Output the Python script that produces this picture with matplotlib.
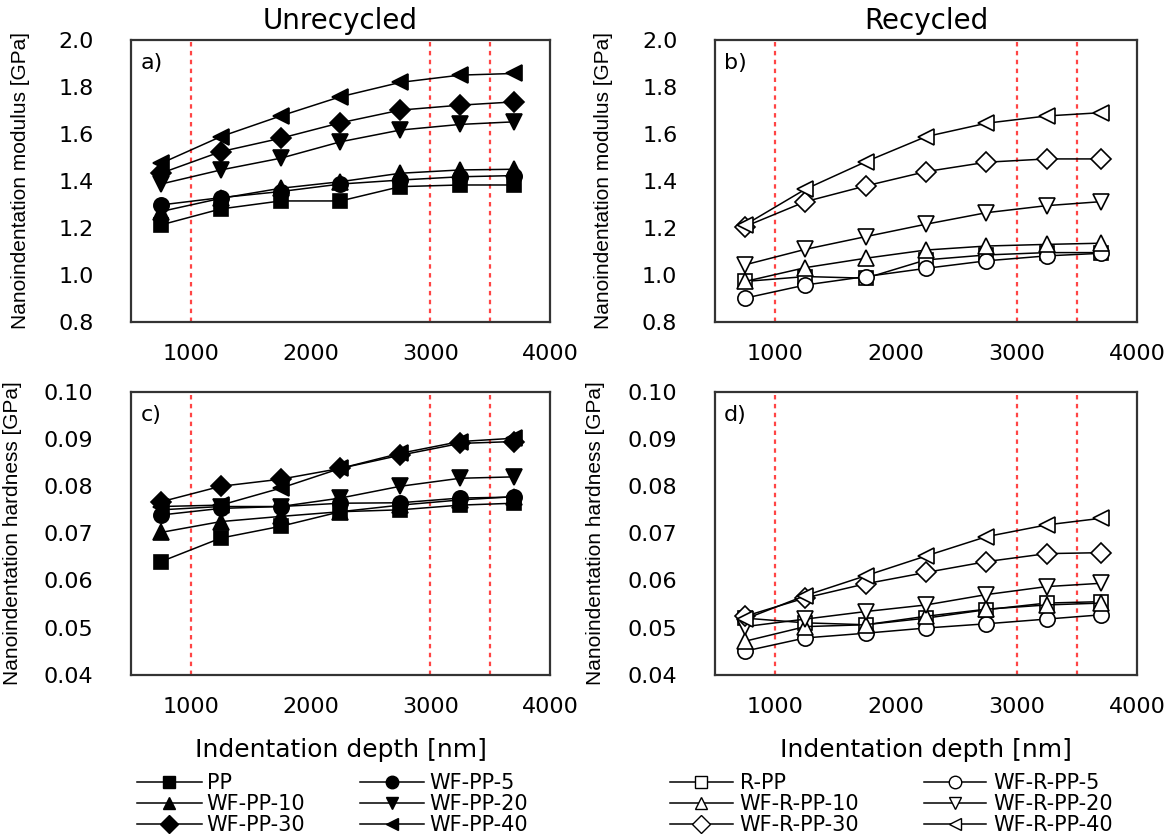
import matplotlib
matplotlib.use("Agg")
import matplotlib.pyplot as plt
from matplotlib.lines import Line2D
from matplotlib.ticker import FormatStrFormatter

plt.rcParams['font.family'] = ['DejaVu Sans']

# indentation depths [nm]
depth = [750, 1250, 1750, 2250, 2750, 3250, 3700]

# modulus, unrecycled [GPa]
mod_pp = [1.213, 1.281, 1.315, 1.315, 1.376, 1.383, 1.383]
mod_pp5 = [1.298, 1.329, 1.355, 1.387, 1.404, 1.418, 1.423]
mod_pp10 = [1.270, 1.326, 1.369, 1.397, 1.433, 1.447, 1.450]
mod_pp20 = [1.387, 1.447, 1.497, 1.567, 1.617, 1.641, 1.652]
mod_pp30 = [1.433, 1.525, 1.582, 1.648, 1.702, 1.723, 1.737]
mod_pp40 = [1.475, 1.589, 1.677, 1.759, 1.820, 1.851, 1.858]

# modulus, recycled [GPa]
mod_rpp = [0.972, 0.993, 0.986, 1.064, 1.085, 1.095, 1.095]
mod_rpp5 = [0.901, 0.957, 0.993, 1.028, 1.060, 1.081, 1.092]
mod_rpp10 = [0.972, 1.031, 1.071, 1.106, 1.123, 1.130, 1.135]
mod_rpp20 = [1.043, 1.109, 1.163, 1.216, 1.265, 1.295, 1.312]
mod_rpp30 = [1.206, 1.312, 1.379, 1.440, 1.480, 1.494, 1.494]
mod_rpp40 = [1.213, 1.365, 1.482, 1.589, 1.646, 1.677, 1.691]

# hardness, unrecycled [GPa]
hard_pp = [0.0640, 0.0690, 0.0715, 0.0746, 0.0750, 0.0760, 0.0764]
hard_pp5 = [0.0739, 0.0753, 0.0757, 0.0764, 0.0765, 0.0775, 0.0777]
hard_pp10 = [0.0702, 0.0725, 0.0736, 0.0746, 0.0760, 0.0771, 0.0778]
hard_pp20 = [0.0750, 0.0757, 0.0757, 0.0775, 0.0800, 0.0817, 0.0820]
hard_pp30 = [0.0767, 0.0800, 0.0815, 0.0838, 0.0866, 0.0891, 0.0895]
hard_pp40 = [0.0757, 0.0760, 0.0796, 0.0838, 0.0870, 0.0895, 0.0902]

# hardness, recycled [GPa]
hard_rpp = [0.0520, 0.0510, 0.0506, 0.0520, 0.0538, 0.0552, 0.0555]
hard_rpp5 = [0.0450, 0.0478, 0.0488, 0.0499, 0.0508, 0.0518, 0.0527]
hard_rpp10 = [0.0471, 0.0502, 0.0506, 0.0524, 0.0539, 0.0548, 0.0552]
hard_rpp20 = [0.0502, 0.0518, 0.0534, 0.0548, 0.0570, 0.0587, 0.0594]
hard_rpp30 = [0.0524, 0.0563, 0.0593, 0.0617, 0.0640, 0.0657, 0.0659]
hard_rpp40 = [0.0518, 0.0568, 0.0610, 0.0652, 0.0693, 0.0718, 0.0732]

names_u = ['PP', 'WF-PP-5', 'WF-PP-10', 'WF-PP-20', 'WF-PP-30', 'WF-PP-40']
names_r = ['R-PP', 'WF-R-PP-5', 'WF-R-PP-10', 'WF-R-PP-20', 'WF-R-PP-30', 'WF-R-PP-40']
markers = ['s', 'o', '^', 'v', 'D', '<']
msizes = [10, 11, 12, 12, 10, 12]
ref_lines = [1000, 3000, 3500]

narrow = ['Liberation Sans Narrow', 'Liberation Sans', 'DejaVu Sans']

fig = plt.figure(figsize=(11.7, 8.36), dpi=100)
ax_a = fig.add_axes([0.112, 0.615, 0.358, 0.337])
ax_b = fig.add_axes([0.611, 0.615, 0.361, 0.337])
ax_c = fig.add_axes([0.112, 0.193, 0.358, 0.338])
ax_d = fig.add_axes([0.611, 0.193, 0.361, 0.338])

def draw(ax, series, filled, label):
    for xv in ref_lines:
        ax.axvline(xv, color='#ff4545', ls=(0, (2, 2)), lw=1.6, zorder=1)
    for y, m, ms in zip(series, markers, msizes):
        ax.plot(depth, y, color='black', lw=1.1, marker=m, ms=ms,
                mfc='black' if filled else 'white', mec='black', mew=1.2, zorder=3)
    ax.set_xlim(500, 4000)
    ax.set_xticks([1000, 2000, 3000, 4000])
    ax.tick_params(length=0, labelsize=16)
    ax.tick_params(axis='y', pad=27)
    ax.tick_params(axis='x', pad=16)
    for s in ax.spines.values():
        s.set_color('#333333')
        s.set_linewidth(1.6)
    ax.text(0.022, 0.955, label, transform=ax.transAxes, fontsize=16,
            va='top', ha='left')

draw(ax_a, [mod_pp, mod_pp5, mod_pp10, mod_pp20, mod_pp30, mod_pp40], True, 'a)')
draw(ax_b, [mod_rpp, mod_rpp5, mod_rpp10, mod_rpp20, mod_rpp30, mod_rpp40], False, 'b)')
draw(ax_c, [hard_pp, hard_pp5, hard_pp10, hard_pp20, hard_pp30, hard_pp40], True, 'c)')
draw(ax_d, [hard_rpp, hard_rpp5, hard_rpp10, hard_rpp20, hard_rpp30, hard_rpp40], False, 'd)')

for ax in (ax_a, ax_b):
    ax.set_ylim(0.8, 2.0)
    ax.set_yticks([0.8, 1.0, 1.2, 1.4, 1.6, 1.8, 2.0])
    ax.yaxis.set_major_formatter(FormatStrFormatter('%.1f'))
    ax.set_ylabel('Nanoindentation modulus [GPa]', fontsize=15, family=narrow)
    ax.yaxis.label.set_va('center')
    ax.yaxis.set_label_coords(-0.263, 0.5)
for ax in (ax_c, ax_d):
    ax.set_ylim(0.04, 0.10)
    ax.set_yticks([0.04, 0.05, 0.06, 0.07, 0.08, 0.09, 0.10])
    ax.yaxis.set_major_formatter(FormatStrFormatter('%.2f'))
    ax.set_ylabel('Nanoindentation hardness [GPa]', fontsize=15, family=narrow)
    ax.yaxis.label.set_va('center')
    ax.yaxis.set_label_coords(-0.282, 0.5)
    ax.set_xlabel('Indentation depth [nm]', fontsize=18)
    ax.xaxis.label.set_va('center')
    ax.xaxis.set_label_coords(0.5, -0.265)

ax_a.set_title('Unrecycled', fontsize=20, pad=8)
ax_b.set_title('Recycled', fontsize=20, pad=8)

def handles(filled):
    hs = [Line2D([], [], color='black', lw=1.1, marker=m, ms=9,
                 mfc='black' if filled else 'white', mec='black', mew=1.0)
          for m in markers]
    return hs

# row-wise order for a 2-column legend
order = [0, 2, 4, 1, 3, 5]

fig.legend([handles(True)[i] for i in order], [names_u[i] for i in order],
           loc='upper left', bbox_to_anchor=(137 / 1170, 0.075),
           ncol=2, frameon=False, borderpad=0, borderaxespad=0,
           handlelength=3.1, handletextpad=0.25, columnspacing=2.6,
           labelspacing=0.05, prop={'size': 15})
fig.legend([handles(False)[i] for i in order], [names_r[i] for i in order],
           loc='upper left', bbox_to_anchor=(670 / 1170, 0.075),
           ncol=2, frameon=False, borderpad=0, borderaxespad=0,
           handlelength=3.0, handletextpad=0.34, columnspacing=3.1,
           labelspacing=0.05, prop={'size': 15})

fig.savefig('out.png', dpi=100)
